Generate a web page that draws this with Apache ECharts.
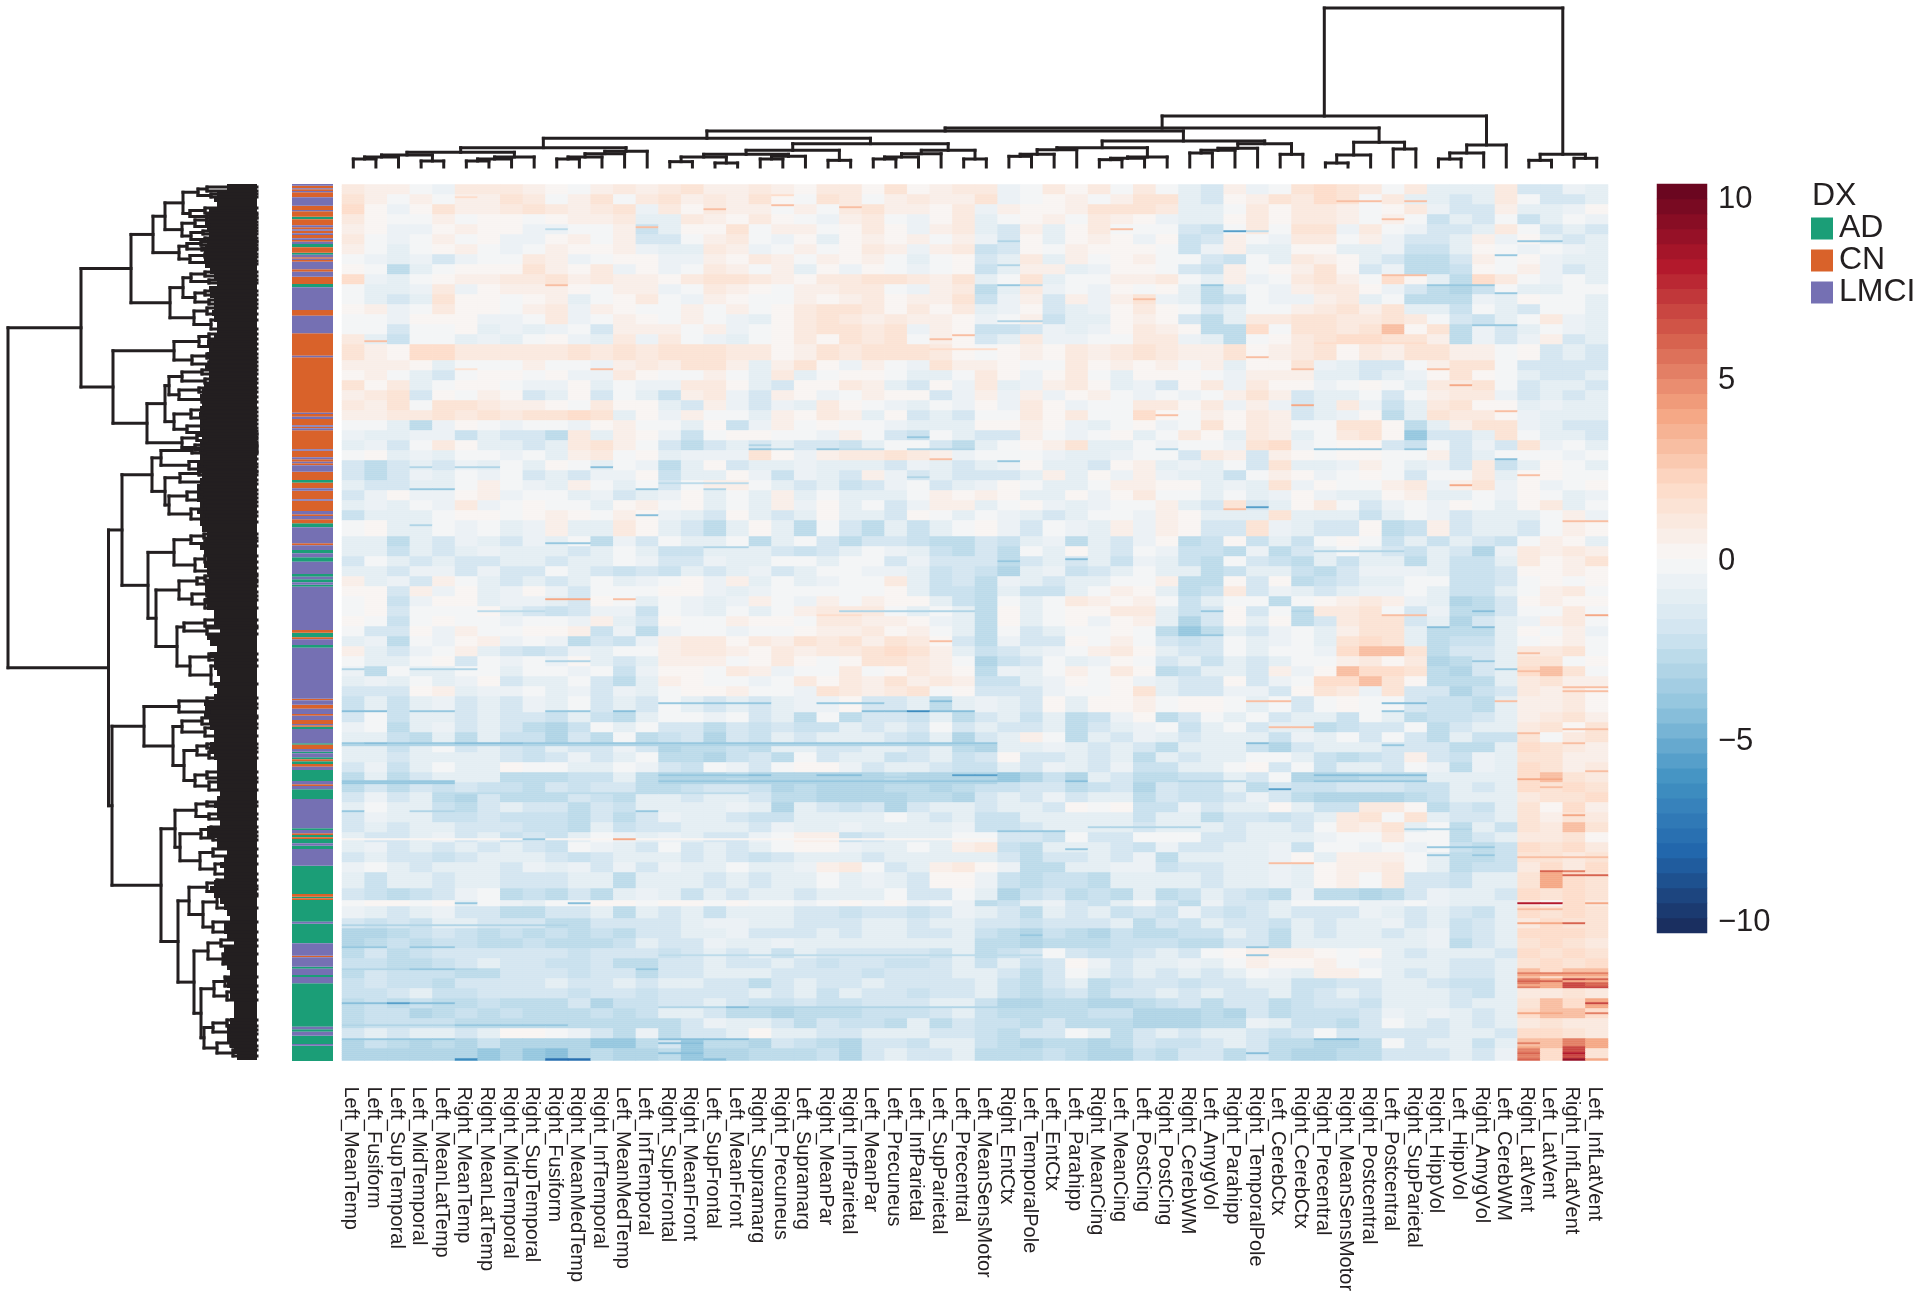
<!DOCTYPE html>
<html><head><meta charset="utf-8">
<style>html,body{margin:0;background:#fff}#c{width:1920px;height:1297px}</style>
<script src="https://cdn.jsdelivr.net/npm/echarts@6/dist/echarts.min.js"></script>
</head><body><div id="c"></div>
<script>
const columns = ["Left_MeanTemp","Left_Fusiform","Left_SupTemporal","Left_MidTemporal","Left_MeanLatTemp","Right_MeanTemp","Right_MeanLatTemp","Right_MidTemporal","Right_SupTemporal","Right_Fusiform","Right_MeanMedTemp","Right_InfTemporal","Left_MeanMedTemp","Left_InfTemporal","Right_SupFrontal","Right_MeanFront","Left_SupFrontal","Left_MeanFront","Right_Supramarg","Right_Precuneus","Left_Supramarg","Right_MeanPar","Right_InfParietal","Left_MeanPar","Left_Precuneus","Left_InfParietal","Left_SupParietal","Left_Precentral","Left_MeanSensMotor","Right_EntCtx","Left_TemporalPole","Left_EntCtx","Left_Parahipp","Right_MeanCing","Left_MeanCing","Left_PostCing","Right_PostCing","Right_CerebWM","Left_AmygVol","Right_Parahipp","Right_TemporalPole","Left_CerebCtx","Right_CerebCtx","Right_Precentral","Right_MeanSensMotor","Right_Postcentral","Left_Postcentral","Right_SupParietal","Right_HippVol","Left_HippVol","Right_AmygVol","Left_CerebWM","Right_LatVent","Left_LatVent","Right_InfLatVent","Left_InfLatVent"];
// one letter per cell: a = -9 ... y = +9
const levelCodes = "abcdefghijklmnopqrstuvwxy";
const levelValues = [-9,-7.5,-6.5,-5.5,-4.5,-3.8,-3.1,-2.7,-2.2,-1.7,-1.1,-0.6,-0.2,0.2,0.5,0.85,1.3,1.8,3,4,5,6,7,8,9];
// [number of rows, cell codes for the 56 columns]
const heatBandsA = [
[5,"poomlpp ponmopo pqoopon ppnqnop plmpnpm pmkjolm qrqpmpk kkpjjlk"],
[5,"qomomoo qpmoqmp qopoqnm qpmopoo qlmnomo qqkjnoq prqmpkk jkpmjjk"],
[5,"rnlnqoo pqpopql pnpoomo mpqoonp lonnoqq qpkkmpn ppomnpl jjokkln"],
[5,"pnmmomn nmnoopk kponpnm lopmlnp kmnompo nlkknpn ppomomi kjmikml"],
[5,"onllnon nllmmoi knnqmoo mnpnlop kjoknpm mmjimpm qqlpmlj jkpmjkj"],
[5,"pmlmomn llnomoj jmopmln knonomo ljnknon lnijoml ppmoljj kolnkjk"],
[5,"omkmnom lmonnol kkpolmo mnpolop ijnmonn nmilokk nnkklii knmlmlk"],
[5,"mlkljlm mpolmnn llonpom onomkmn jkpkomn ommjimk ponkjhh jomnlkk"],
[5,"nmhkmnn nqonpln lmpomok nlnmlmn ikookln nmjiomn oqnjlhh inmoljk"],
[5,"rlkmnoo ppqopoo npqqpon ppqqpoq kmqkmmo opmkolm pqomrnk hrpmlmk"],
[5,"mkklpln ooonmoo lmponmo oppmlop hkplmln mnkhkml oppnljh gimkkmm"],
[5,"mkjkqnn mnokmnp mlonmmo nopnooq ilojolo qlkhiml lopkmhh hlknmmk"],
[5,"nolmpnn moplonm momomnp qqpnpnp klnjkln pnmjkmm opqoqkk imkjmmk"],
[5,"mmlnnnl lmplmon momlknp qpopoon lmoikkn onjhkpp qqppqpm jikmplk"],
[5,"mmjmmnk lklmjoo omolmnp qqpqlon iijlkln ponhhrm qqpqsnq hljkmlk"],
[5,"pkimmkl kmnlkpl pmlkmnp nqpqmon jkpllmm pplkhmn pqrrqqo hljlojk"],
[8,"qonrrpp pppqpqp qqqppno qpqqqpn mnonpop qpooqno pqnpoqq oomnjkj"]];
const heatBandsB = [
[5,"ooonkmm mommlop oqqokoq nlomlqo onmmpno nomoknn qlkjjmo qqmjjjj"],
[5,"nomkjmn nmnllpn mmomkpk mnnmkkm pnlnpmk nnnmloo okkjkln qnmkjjk"],
[5,"qnpkmnn mllnkml lppnkjn npokjnl pklopnk ljnplpn nlmnmkp pqmjkkj"],
[5,"opqjnmo njknjmk iopljon lmonnjl ololnom lmlmoqo jkkmjmo ppljkjk"],
[5,"poqmqqp oonmpnn kjoljlk pnmlkml nlpnlmm ppnplol jkplikp qnnklkk"],
[5,"ooppqpq pqqrqkn lommkon poknjkj mmpnpmm rnmonpo jklnhkq ppnlkkk"],
[5,"mmkhlnm lmmlnom mknilom nmmlkkk nnonlkm nlmqnpo mmqqnhk oqqlkjj"],
[5,"lkkllik jjhpkon limnnmm lomjimk jjomlmn kmpnkpo kmpqnfj jkqmkkj"],
[5,"kljmpnk kjkpqom jhjkjkj jikmmjh kmnoqkk mlmmlqr lmnnjim jljqlmk"],
[5,"mnklkmm lmkopmn klllqnl oppqpol mmmlkkl mmjpojo nmnnmmo jkmmmlm"],
[5,"jhjkjlk mknmkml hknjkkl kkkjlkj klnkkjn oklkmjq kklomkl jpiknmk"],
[5,"jhjlkml mjkjlln ikknlil kjoljkj jjkoknl olkkimo nlmnmjm mpknnmm"],
[5,"kjjkkmo mlkomkm jmoomkj kijlmjk lnmkkmo onnklkq lnmmopl oqlnlmn"],
[5,"jlnllno lmmkljk lnkmkok mkkkmon onkknln pmmkmkl nlkknok kmlnmkl"],
[5,"klkmlpl mnmmkno mnkmkol nkmjloo kmnlklm mokjqjk npmjlml nmknpkm"],
[5,"ikkkmnn mnonmon lkjnkjk nkkjnmk mlkjkmm lonkkkq kkkikml jkkkmol"],
[8,"mnkkmlm klokkpn kjhknkh mjhkikm nljmlko lonjjql kjjnhio jkkjmon"]];
const heatBandsC = [
[5,"kkhkjlk jlkmhlj mkkmhkm jhjjihh jiklhkj lnhinik imnmiki kjimonk"],
[5,"kkikjkl kkkjkmk iikkkji jkmlkih jhmknkj mliihlh jkmkjik jglpopo"],
[5,"jmkjkjj kkjkkml jjlkkmm kmmjljj jhjkjki lkihmji hkikkhk iikpnoq"],
[5,"kkjlljl jjmkjij ikjkljk mmllkij igklijk mkkhikk ihjlllk iijnnon"],
[5,"okljomk jkjkmkl mnlokmk lmmpkij hlkjkkm mohhnjn hijkkmm iijmnmn"],
[5,"nnjolnk lnljmmm nnlklmm mmmnkii hkiikmo nkhipjl kjkllmk iikmopm"],
[5,"mnilnnk llkjnmk mlkloml omonnki hmkmpon omikmmh mnopolk ghjnonn"],
[5,"mnjmmmn kjijlli mlkmkmo pppmkmk hnkmnnp pkijnjm hppqmjl hhjmmpm"],
[5,"nmimnmm lmmlokj nmmonnm ppoonlk hnkmnln okgjnkn hjpqqjk gjklopm"],
[5,"mjjnlom mnnoilh lmmlmmn oopnomk hmjkmmn mhfhkjl mkoqqkh hhknmol"],
[5,"klhmlno lmlhjil oppnpoq pqoqpnj hljjnmo mjijmkl mkqrqkh iikmnom"],
[5,"okjlmok jijlkmm opponpo ppqrqok ijklmop nkjjmkm mlrssqh jjkppqm"],
[5,"mkkmnjm lmlnkjk ooomnpn mnqqpom gijmkln mjkikjk mmopnpg hjkqqmn"],
[5,"lhmkkmm kmmlmil nnmpolm mpmnpon hlkmomp nhikkjo lnsrrqh gjkrsqm"],
[5,"klkmkln jkkmjhk onmmlmp npoqopo iiklnmn lkjjnjl mrrsqnh hhkpqoo"],
[5,"jjjnokl lmkljlk mnnomml qpopqmn jjjlmmn qkjjllj nqplqjj gijpopn"],
[8,"ikikljk jlkmjkj mkjkjkl lnjjkhk lkjnknn omnnmkm jmnmmji ihkoopn"]];
const heatBandsD = [
[5,"jmikkjk jjikihk mmlmjkh mhjjikh jkikhil nhjmkmj kkimkhi ijkopqo"],
[5,"lmhkljk jhgimkm jjhjiji ikjkjmj kjjkhjk lmikmjk khijjmh jkkpqnq"],
[5,"kkihkhk iigjhmh ijgjikj kkkjikg jkomhkj lkjkkki lkmjmjh kiiqmpq"],
[5,"kkikmjk jikjjlj ghhihkk jjkkjkh gkklkjk jhkkkig jkkkjjj hhkrqpo"],
[5,"kkjkkkk jijljkm hhgijhm jkkijki jnjjkjk hkjkkmm kihijoj ilkqqoo"],
[5,"jlikmkk nmmkkml jimljmn nljkkji ikjlkjl iikkmnj mikkjml hlkrqop"],
[5,"hkhjkkk hhhiikh ggghggg ggghggg gfgigkj hhiikjm ggghhhk kkkrsqp"],
[5,"hjhjiji ihjijjh hijjigh ggghhgh iijjhij gjiikhj iijjjii kjkrqrq"],
[5,"jljkhgj hhhjihk kjkkjhh gggghhg jkjljkk hjiijlj hgggghi kkkpqqr"],
[5,"kmkkihj kjjhjik kkklkgk jijgjkk jkkjnmn iiljkkn kiippnh jikqnro"],
[5,"jlkkiij iiihjhj lkkjiik kkkmkjk iikkkkk ikkhjji jkpqmqk jjkqoqp"],
[5,"jkjkkjj jiihkij jkkkjlk klkkkkl iijkkkk jkkkjkk jmpoqkm hkiqpsq"],
[5,"kjjkljk ijikmlk lkjjlmo oijkkkm mjjimjj mmmjjkk klmmpmm hjkppqn"],
[5,"kljkjkj kjimlkj mjkjkmn nlkkmko pihkkkj iljjkkl immlmlm ihirqrp"],
[5,"jkjjijk kkjijkk kjkjijk kkjkkkk kjhjjkj lhkkkkl nkooomk hhiqqpq"],
[5,"lmkjkkk jlkljlj lkkmkkl opmjkop nlhhkkl lijjkkl knoopmk hiiprpr"],
[8,"kikkjkk jjjkkhk kkjkjkk mklkjnn lihiihk kkkjkkl knompjj ikkqtrq"]];
const heatBandsE = [
[6,"jihijlm hihjhkl kikjkkj kkkmjjm kgijhih khikjih lhhghjl kkjrqrq"],
[3,"mnnmnkm lkmmnnm nnmnmml mnmnlml hikljik mjhljjk mmmllml kkkpnrp"],
[6,"lkjkljj hhjjkhk jkikkkj jijjijl kjhkjki jiljijk jjjlkjk jikrqrq"],
[5,"jijikkj jjhhjjj jkllkkj jjkkjkk jjijjjk hjikjji kjkkljk ijkprqq"],
[5,"gghijih ihihihj jkkljjj kjkkjjk ihgihgi hhiikjh kjkkjkl ijkrrrq"],
[5,"ghihiih hihhhik jjlkklk kkkkkkk hhghhhi iihhjjh kkkkkkl hjkqrqp"],
[5,"hjhijjj jjjijjj ijkjkik jjjjjik hijmjii jkjmnoo onmnkjk kkjrqrq"],
[5,"iihhijk jjiijhh jjkjjkj ijjiijk ikijnlj kklkmon nomlkkk jjkqrqr"],
[5,"hjiiihh jjjijjh jjkkkjj jjijjjk kjhjmkj kjkjkml koomkjk jjksrss"],
[5,"ijiihjj jjkjjkj kkjjhjk jjkjjjj kihjkhi jjijjkk iijjkkj iikutwv"],
[5,"iijkiij jjjijji jjjjkjk ikjjijj kihijhj jkjkjjk ijkjkkk jikppqp"],
[5,"hihihhi hhhjgii jjkjiij iijjjkk igghhgg hijhjjh ijjikkk jkkqsrt"],
[5,"hiighih ihhhihi kkjhhgh hhiiijk ihhhhii ggghgjh iiijlkl kjkrssr"],
[5,"hiiiihh hhhhhhh hjlkkjh jiihkhj iihjhhh ggghhlk iihjmkj kjkpqpp"],
[5,"jkjkkjk nnmljhl hjjknkk jjkkkjj ihjjmkh jkjkkji jmjjjjj kkjrrqp"],
[5,"gihghgi ggggffh jfhhgji hgjjikk ihghhgh jiijkjh hgghmjk kikssut"],
[6,"ggggggf gfeghgg hfgghhh igjkjjk hhhihgg ihjjhjh gghhjjj kjlurwq"]];
// single-row streaks: [row, first column, last column, code]
const heatStreaks = [
[22,9,9,'h'],[23,39,39,'d'],[23,40,40,'h'],[28,29,29,'g'],[28,52,53,'f'],[40,29,29,'g'],[50,29,29,'f'],[50,30,30,'h'],[50,38,38,'f'],[50,48,50,'f'],[54,51,51,'f'],[35,51,51,'f'],[70,50,51,'f'],[68,29,30,'g'],
[6,5,5,'r'],[8,44,45,'s'],[8,47,47,'s'],[17,46,46,'s'],[57,35,35,'s'],[45,46,47,'s'],[77,26,26,'s'],[75,27,27,'s'],[79,43,47,'r'],[82,26,28,'r'],[50,9,9,'s'],[12,16,16,'s'],[10,19,19,'s'],[11,22,22,'s'],[21,13,13,'s'],[22,34,34,'s'],[86,40,40,'s'],[78,1,1,'s'],[5,19,19,'r'],
[132,18,18,'f'],[132,19,19,'g'],[132,21,21,'f'],[132,22,23,'h'],[132,25,27,'g'],[132,43,45,'f'],[132,47,47,'f'],[132,36,36,'g'],[141,11,11,'e'],[141,5,6,'g'],[141,3,3,'g'],[152,3,4,'f'],[149,14,17,'h'],[152,13,13,'f'],[152,16,16,'g'],[161,40,40,'d'],[165,13,13,'e'],[170,3,3,'g'],[137,51,51,'e'],[146,25,25,'g'],[138,29,29,'f'],[126,25,25,'f'],[130,18,18,'g'],
[92,5,5,'q'],[92,11,11,'s'],[92,42,42,'s'],[92,48,48,'s'],[92,49,49,'q'],[100,49,49,'t'],[110,42,42,'t'],[113,51,51,'s'],[115,36,36,'s'],[137,26,26,'s'],[150,49,49,'t'],[162,39,39,'s'],[145,52,52,'s'],[168,54,55,'s'],
[179,9,10,'f'],[181,16,17,'g'],[183,43,46,'g'],[188,29,29,'f'],[187,32,32,'e'],[207,9,10,'t'],[207,12,12,'s'],[213,6,8,'h'],[213,22,27,'g'],[213,38,38,'f'],[213,42,42,'g'],[213,50,50,'e'],[215,21,22,'r'],[215,46,47,'s'],[221,48,48,'e'],[221,50,50,'e'],[215,55,55,'t'],[225,37,38,'f'],[228,26,26,'s'],[234,52,52,'s'],[238,9,10,'g'],[238,50,50,'f'],[242,51,51,'f'],[242,0,0,'g'],[242,3,5,'g'],[243,52,52,'s'],[251,54,55,'s'],[253,54,55,'s'],[259,14,18,'f'],[259,21,23,'f'],[259,46,47,'e'],[258,51,51,'s'],[258,26,26,'e'],[258,40,41,'s'],[263,0,1,'e'],[263,3,4,'f'],[263,9,10,'f'],[263,12,12,'e'],[263,23,27,'e'],[263,25,25,'c'],[263,46,46,'f'],
[279,0,28,'f'],[280,0,28,'g'],[279,1,1,'e'],[279,5,7,'e'],[279,40,40,'e'],[280,46,46,'f'],[295,14,17,'f'],[295,18,18,'e'],[295,21,22,'e'],[295,27,28,'d'],[295,43,47,'e'],[296,14,28,'g'],[298,0,4,'f'],[299,0,4,'f'],[298,14,28,'f'],[299,14,28,'g'],[298,43,47,'f'],[298,32,32,'e'],[298,37,39,'g'],[302,41,41,'d'],[304,5,17,'h'],[313,0,0,'f'],[313,3,4,'g'],[313,13,13,'f'],[327,0,28,'n'],[327,12,12,'t'],[327,8,8,'f'],[332,32,32,'f'],[321,33,37,'g'],[322,47,49,'g'],[323,29,31,'f'],[331,48,50,'f'],[335,48,48,'f'],[335,50,50,'f'],
[274,52,52,'s'],[279,54,54,'s'],[297,52,53,'t'],[301,53,53,'s'],[315,54,54,'t'],[336,52,55,'s'],[343,53,53,'v'],[343,54,54,'u'],[345,54,55,'v'],[293,55,55,'s'],[272,54,55,'s'],[271,41,42,'s'],[339,41,42,'s'],
[359,52,53,'x'],[359,55,55,'t'],[359,5,5,'f'],[359,10,10,'e'],[362,52,53,'s'],[369,52,53,'t'],[369,54,54,'v'],[370,0,9,'g'],[375,30,30,'f'],[381,0,1,'f'],[381,3,4,'f'],[381,40,40,'f'],[385,40,40,'f'],[385,14,30,'h'],[392,0,5,'g'],[392,3,4,'f'],[392,13,13,'f'],[394,52,55,'u'],[395,52,55,'t'],[398,52,53,'v'],[398,54,55,'t'],[400,52,52,'t'],[400,54,54,'w'],[400,55,55,'v'],[401,54,55,'w'],[409,0,1,'e'],[409,2,2,'d'],[409,3,4,'e'],[409,55,55,'w'],[411,14,30,'g'],[411,17,17,'e'],[414,52,53,'t'],[414,55,55,'u'],[420,0,9,'g'],[420,5,9,'f'],[427,0,4,'f'],[427,14,17,'e'],[427,43,44,'e'],[429,14,15,'e'],[429,52,52,'u'],[431,54,54,'w'],[431,52,52,'t'],[434,52,52,'v'],[434,54,54,'x'],[434,14,15,'e'],[434,40,40,'e'],[437,9,10,'b'],[437,5,5,'c'],[437,16,16,'e'],[437,52,52,'v'],[437,54,54,'y'],[437,55,55,'t']];
// diagnosis runs, top to bottom: class letter + running sample count at the end of the run
const annoRuns = ("L5 C13 L16 C21 L25 C40 L65 C78 L82 C98 A106 C124 L130 C136 L140 C148 L153 C163 L168 C173 L180 A190 C206 A212 L220 C224 L228 C233 L256 C263 L278 C300 A310 L378 C395 L448 C515 L520 C686 L690 C698 L705 C724 L728 C733 L739 C796 L800 C820 L826 C833 L838 C844 L863 C888 A896 C913 L920 C946 L950 C981 L991 C996 L1006 C1018 A1030 L1078 C1084 L1098 A1108 L1120 A1133 L1170 A1178 L1186 A1195 L1202 A1208 L1338 "+
"C1346 A1360 C1366 L1383 A1391 L1544 C1549 L1562 C1574 L1590 C1595 L1608 C1620 L1624 C1628 A1635 L1678 A1682 C1695 L1703 A1708 L1720 A1726 C1732 A1740 C1748 L1758 A1791 L1801 C1806 L1816 A1845 L1933 A1938 L1948 C1953 A1960 C1965 A1978 L1985 A1995 L2045 A2130 C2138 A2143 C2148 A2213 L2219 A2278 L2315 C2320 L2348 A2354 L2373 A2379 L2398 A2528 L2536 A2543 L2555 A2580 L2585 A2631").split(" ");
const annoNames = {A:"AD",C:"CN",L:"LMCI"};
// column tree: [merge height, child, child], children are column indices or sub-trees
const columnTree = [477,
 [153,
  [117,
   [108,
    [86,
     [58,
      [44,[36,[30,[24,0,1],2],[18,3,4]],[30,[24,[18,5,6],7],8]],
      [47,[40,[30,[24,9,10],11],12],13]],
     [70,
      [50,[38,[30,[16,14,15],[12,16,17]],[32,[24,18,19],20]],[20,21,22]],
      [50,[40,[30,[24,23,24],25],26],[24,27,28]]]],
    [78,
     [58,[52,[38,[32,29,30],31],32],[30,[26,[22,33,34],35],36]],
     [70,[56,[50,[42,37,38],39],40],[38,41,42]]]],
   [74,[36,[12,43,44],45],[54,46,47]]],
  [66,[42,[24,48,49],50],51]],
 [38,[20,52,53],[26,54,55]]];
// sample tree: [merge height, child, child]; a plain number is a branch running on into the dense leaves
const sampleTree = [249,
 [176,
  [126,
   [104,
    [92,
     [74,[59,[50,3,7],[46,10,13]],[67,[52,24,29],[50,31,34]]],
     [75,[62,[50,34,38],[48,41,44]],[66,[54,47,50],[52,54,57]]]],
    [78,[70,[56,58,61],[55,64,66]],[67,[52,70,73],[50,77,80]]]],
   [87,
    [74,[66,[52,88,92],[48,96,99]],[62,[52,107,111],[48,116,120]]],
    [63,[50,124,130],[46,136,145]]]],
  [144,
   [83,[58,[48,150,155],[45,160,165]],[65,[50,170,174],[48,178,182]]],
   [110,
    [92,
     [88,[75,[55,186,190],[52,195,199]],[78,[58,204,208],[55,213,218]]],
     [83,[66,[54,224,228],[52,232,236]],[70,[55,240,244],[52,247,250]]]],
    [75,[60,[52,250,253],[50,255,258]],[62,[52,260,262],[50,264,268]]]]]],
 [148.5,
  [135,
   [105,
    [96,[65,[54,262,266],[52,268,270]],[68,[55,275,280],[52,283,287]]],
    [92,[77,[58,288,291],[55,296,300]],[88,[70,[55,306,310],[52,314,318]],[66,[52,322,328],[50,332,338]]]]],
   [109,
    [83,[66,[53,350,354],[52,357,362]],[62,[52,372,378],[48,384,390]]],
    [101,
     [78,[60,[52,392,396],[48,398,402]],[65,[50,408,412],[52,416,424]]],
     [80,[73,[52,436,442],[50,444,450]],[67,[48,470,476],[46,482,500]]]]]],
  [145,
   [113,
    [78,[50,514,520],[48,524,532]],
    [84,[75,[55,534,540],[52,544,552]],[73,[60,[50,560,564],[48,568,574]],[62,[50,588,594],[48,598,606]]]]],
   [96,
    [82,[61,[50,618,622],[48,630,635]],[77,[56,[46,643,648],[44,652,656]],[57,[44,665,672],[42,680,690]]]],
    [79,
     [68,[50,[40,696,702],[38,705,710]],[54,[40,712,724],[44,738,748]]],
     [63,[49,[36,756,762],[34,770,780]],[56,[43,[32,793,802],[30,808,816]],[53,[44,[30,836,842],[28,846,850]],[40,[26,856,862],[24,866,872]]]]]]]]]];
// height reached by the dense leaf branches, row block by row block
const leafMassDepth = [30,40,43,40,48,48,52,50,48,50,52,53,53,52,47,43,40,48,47,43,43,45,43,40,40,43,50,48,50,48,52,48,48,53,55,57,55,57,58,57,57,57,55,57,58,57,60,60,55,57,60,60,60,57,60,57,57,55,50,52,57,53,50,53,50,48,52,52,50,53,50,43,43,43,
37,50,47,40,47,43,43,40,37,43,40,43,53,52,53,48,47,43,43,47,48,43,40,40,40,40,40,37,40,43,40,40,37,50,50,40,40,30,33,37,33,33,43,47,43,37,33,30,27,33,33,30,23,33,33,33,30,27,33,30,27,27,23,23,23,27,30,30,30,27,23,20];
const scaleTicks = [-10,-5,0,5,10];

const INK = "#231f20", FONT = "Liberation Sans";
const dxColors = {AD:"#1b9e77",CN:"#d9622a",LMCI:"#7570b3"};
const SCALE = 10.35, STEPS = 50;
const anchors = ['#1a2f60','#2166ac','#4393c3','#92c5de','#d1e5f0','#f7f7f7','#fddbc7','#f4a582','#d6604d','#b2182b','#6b0620'];
const stepColors = Array.from({length:STEPS},(_,i)=>echarts.color.lerp(i/(STEPS-1),anchors));
const stepSize = 2*SCALE/STEPS;
const pieces = stepColors.map((c,i)=>({gte:-SCALE+i*stepSize,lt:-SCALE+(i+1)*stepSize,color:c}));
pieces[0].gte=-100; pieces[STEPS-1].lt=100;

const grid = [];
[heatBandsA,heatBandsB,heatBandsC,heatBandsD,heatBandsE].forEach(s=>s.forEach(([n,str])=>{
  const cells = str.replace(/ /g,"").split("");
  for(let i=0;i<n;i++) grid.push(cells.slice());
}));
heatStreaks.forEach(([r,a,b,c])=>{ for(let j=a;j<=b;j++) if(grid[r]) grid[r][j]=c; });
const rowNames = grid.map((_,i)=>String(i));
const heatData = [];
grid.forEach((row,r)=>{ for(let c=0;c<columns.length;c++){
  const k = levelCodes.indexOf(row[c]); heatData.push([c,r,levelValues[k<0?11:k]]);
}});

function segments(tree,leaf,emit){
  const walk = n=>{
    if(typeof n==="number") return {p:leaf(n),h:0};
    const a=walk(n[1]), b=walk(n[2]), h=n[0];
    emit(a.p,h,b.p,h); emit(a.p,a.h,a.p,h); emit(b.p,b.h,b.p,h);
    return {p:(a.p+b.p)/2,h};
  };
  walk(tree);
}
const colSegs=[]; segments(columnTree,i=>i+0.5,(p1,h1,p2,h2)=>colSegs.push([p1,h1,p2,h2]));
const rowSegs=[]; segments(sampleTree,p=>p,(p1,h1,p2,h2)=>rowSegs.push([h1,p1,h2,p2]));
const massData = leafMassDepth.map((d,i)=>[i*6,(i+1)*6,d]);

const lineItem = w => (params,api)=>{
  const s=api.coord([api.value(0),api.value(1)]), e=api.coord([api.value(2),api.value(3)]);
  return {type:"line",shape:{x1:s[0],y1:s[1],x2:e[0],y2:e[1]},style:{stroke:INK,lineWidth:w,lineCap:"square",fill:null}};
};
const annoSeries = ["A","C","L"].map(k=>{
  const data=[]; let start=0;
  annoRuns.forEach(r=>{ const end=+r.slice(1); if(r[0]===k) data.push([start,end]); start=end; });
  const name=annoNames[k];
  return {type:"custom",name,xAxisIndex:2,yAxisIndex:2,data,itemStyle:{color:dxColors[name]},encode:{y:[0,1]},silent:true,
    renderItem:(params,api)=>{
      const a=api.coord([0,api.value(0)]), b=api.coord([1,api.value(1)]);
      return {type:"rect",shape:{x:a[0],y:a[1],width:b[0]-a[0],height:b[1]-a[1]},style:{fill:dxColors[name]}};
    }};
});

const hidden = {show:false};
const chart = echarts.init(document.getElementById("c"),null,{renderer:"canvas"});
chart.setOption({
  animation:false,
  backgroundColor:"#fff",
  textStyle:{fontFamily:FONT},
  title:{text:"DX",left:1812,top:180,padding:0,textStyle:{fontFamily:FONT,fontSize:32,fontWeight:"normal",color:INK}},
  legend:{data:["AD","CN","LMCI"],orient:"vertical",left:1811,top:212.5,padding:0,itemWidth:22,itemHeight:22,itemGap:0,icon:"rect",selectedMode:false,
    textStyle:{fontFamily:FONT,fontSize:32,color:INK,padding:[0,0,0,1]}},
  visualMap:{type:"piecewise",show:false,seriesIndex:[0,1],pieces},
  grid:[
    {left:342,top:184.5,width:1266,height:876},
    {left:1657,top:184,width:50,height:749},
    {left:292,top:184,width:41,height:877},
    {left:342,top:8,width:1266,height:159},
    {left:7,top:184,width:250,height:877},
    {left:339.5,top:184.5,width:1266,height:876},
    {left:1657,top:186.5,width:50,height:749}
  ],
  xAxis:[
    {type:"category",gridIndex:0,data:columns,show:false},
    {type:"category",gridIndex:1,data:["scale"],show:false},
    {type:"value",gridIndex:2,min:0,max:1,show:false},
    {type:"value",gridIndex:3,min:0,max:56,show:false},
    {type:"value",gridIndex:4,min:0,max:250,inverse:true,show:false},
    {type:"category",gridIndex:5,data:columns,axisLine:hidden,axisTick:hidden,splitLine:hidden,
      axisLabel:{interval:0,rotate:-90,margin:26,fontFamily:FONT,fontSize:20,color:INK,hideOverlap:false}},
    {type:"value",gridIndex:6,min:0,max:1,show:false}
  ],
  yAxis:[
    {type:"category",gridIndex:0,data:rowNames,inverse:true,show:false},
    {type:"category",gridIndex:1,data:stepColors.map((_,i)=>String(i)),show:false},
    {type:"value",gridIndex:2,min:0,max:2631,inverse:true,show:false},
    {type:"value",gridIndex:3,min:0,max:477,show:false},
    {type:"value",gridIndex:4,min:0,max:877,inverse:true,show:false},
    {type:"value",gridIndex:5,min:0,max:1,show:false},
    {type:"value",gridIndex:6,min:-SCALE,max:SCALE,position:"right",axisLine:hidden,axisTick:hidden,splitLine:hidden,
      axisLabel:{customValues:scaleTicks,margin:11,fontFamily:FONT,fontSize:31,color:INK,formatter:v=>String(v).replace("-","\u2212")}}
  ],
  series:[
    {type:"heatmap",xAxisIndex:0,yAxisIndex:0,data:heatData,progressive:0,emphasis:{disabled:true}},
    {type:"heatmap",xAxisIndex:1,yAxisIndex:1,data:stepColors.map((_,i)=>[0,i,-SCALE+(i+0.5)*stepSize]),progressive:0,emphasis:{disabled:true}},
    ...annoSeries,
    {type:"custom",xAxisIndex:3,yAxisIndex:3,data:colSegs,renderItem:lineItem(3),encode:{x:[0,2],y:[1,3]},silent:true},
    {type:"custom",xAxisIndex:4,yAxisIndex:4,data:massData,encode:{x:2,y:[0,1]},silent:true,itemStyle:{color:INK},
      renderItem:(params,api)=>{
        const a=api.coord([api.value(2),api.value(0)]), b=api.coord([0,api.value(1)]);
        return {type:"rect",shape:{x:a[0],y:a[1],width:b[0]-a[0],height:b[1]-a[1]},style:{fill:INK}};
      }},
    {type:"custom",xAxisIndex:4,yAxisIndex:4,data:rowSegs,renderItem:lineItem(3),encode:{x:[0,2],y:[1,3]},silent:true}
  ]
});
</script></body></html>
